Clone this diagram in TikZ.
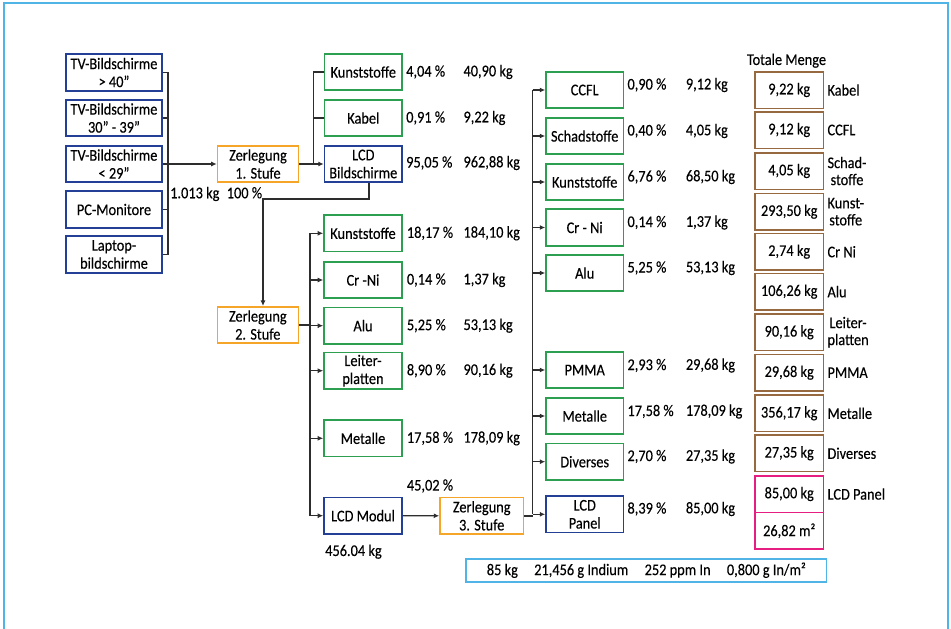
\documentclass[tikz,border=0pt]{standalone}
\usepackage{fontspec}
\setmainfont{Carlito}[FakeStretch=0.88,FakeBold=0.25]
\usetikzlibrary{arrows.meta}
\definecolor{navybx}{RGB}{36,64,150}
\definecolor{greenbx}{RGB}{44,160,80}
\definecolor{orangebx}{RGB}{245,166,40}
\definecolor{brownbx}{RGB}{150,105,65}
\definecolor{magbx}{RGB}{230,30,130}
\definecolor{lblue}{RGB}{80,180,230}
\definecolor{linec}{RGB}{45,45,45}
\begin{document}
\begin{tikzpicture}[x=1pt,y=-1pt,font=\fontsize{16.3}{18}\selectfont,
  bx/.style={draw,line width=1.6pt,inner sep=0pt,align=center,minimum height=36.5pt},
  nb/.style={bx,draw=navybx},
  gb/.style={bx,draw=greenbx},
  ob/.style={bx,draw=orangebx},
  tb/.style={bx,draw=brownbx,minimum width=68.3pt,minimum height=36.6pt},
  mb/.style={bx,draw=magbx,minimum width=68.3pt,minimum height=36.6pt},
  lbl/.style={anchor=west,inner sep=0pt},
  tlbl/.style={anchor=west,inner sep=0pt,align=center,font=\fontsize{16.3}{17}\selectfont},
  conn/.style={draw=linec,line width=1.4pt},
  arr/.style={conn,-{Latex[length=5.5pt,width=5pt]}}]
\useasboundingbox (0,0) rectangle (951,629);
% frame
\draw[lblue,line width=1.6pt] (4,640) -- (4,3) -- (948,3) -- (948,640);

% left column
\node[nb,minimum width=96pt] (b1) at (114,72.5) {TV-Bildschirme\\> 40”};
\node[nb,minimum width=96pt] (b2) at (114,118) {TV-Bildschirme\\30” - 39”};
\node[nb,minimum width=96pt] (b3) at (114,164) {TV-Bildschirme\\< 29”};
\node[nb,minimum width=96pt] (b4) at (114,209.5) {PC-Monitore};
\node[nb,minimum width=96pt] (b5) at (114,254.5) {Laptop-\\bildschirme};

\node[ob,minimum width=81pt] (z1) at (258,164) {Zerlegung\\1. Stufe};
\node[lbl] (tot1) at (170,194) {1.013 kg\hspace{0.45em}100 \%};

% stage 1 outputs
\node[gb,minimum width=77.5pt] (s1a) at (363.3,72) {Kunststoffe};
\node[gb,minimum width=77.5pt] (s1b) at (363.3,118) {Kabel};
\node[nb,minimum width=77.5pt] (s1c) at (363.3,164) {LCD\\Bildschirme};
\node[lbl] (p1a) at (406,72) {4,04 \%};
\node[lbl] (k1a) at (463.3,72) {40,90 kg};
\node[lbl] (p1b) at (406,118) {0,91 \%};
\node[lbl] (k1b) at (463.3,118) {9,22 kg};
\node[lbl] (p1c) at (406,163) {95,05 \%};
\node[lbl] (k1c) at (463.3,163) {962,88 kg};

% stage 2
\node[ob,minimum width=81pt] (z2) at (257.8,325) {Zerlegung\\2. Stufe};
\node[gb,minimum width=78pt] (s2a) at (363,233.3) {Kunststoffe};
\node[gb,minimum width=78pt] (s2b) at (363,280) {Cr -Ni};
\node[gb,minimum width=78pt] (s2c) at (363,325.7) {Alu};
\node[gb,minimum width=78pt] (s2d) at (363,370.7) {Leiter-\\platten};
\node[gb,minimum width=78pt] (s2e) at (363,438.3) {Metalle};
\node[nb,minimum width=78pt] (s2f) at (363,515.7) {LCD Modul};
\node[lbl] (p2a) at (406.7,233.3) {18,17 \%};
\node[lbl] (k2a) at (463.3,233.3) {184,10 kg};
\node[lbl] (p2b) at (406.7,280) {0,14 \%};
\node[lbl] (k2b) at (463.3,280) {1,37 kg};
\node[lbl] (p2c) at (406.7,325.7) {5,25 \%};
\node[lbl] (k2c) at (463.3,325.7) {53,13 kg};
\node[lbl] (p2d) at (406.7,370.7) {8,90 \%};
\node[lbl] (k2d) at (463.3,370.7) {90,16 kg};
\node[lbl] (p2e) at (406.7,438.3) {17,58 \%};
\node[lbl] (k2e) at (463.3,438.3) {178,09 kg};
\node[lbl] (p2f) at (406.7,486) {45,02 \%};
\node[lbl] (k2f) at (325,551.7) {456.04 kg};

% stage 3
\node[ob,minimum width=83.3pt] (z3) at (481.7,515.8) {Zerlegung\\3. Stufe};
\node[gb,minimum width=77.3pt] (s3a) at (584.7,90) {CCFL};
\node[gb,minimum width=77.3pt] (s3b) at (584.7,136) {Schadstoffe};
\node[gb,minimum width=77.3pt] (s3c) at (584.7,182) {Kunststoffe};
\node[gb,minimum width=77.3pt] (s3d) at (584.7,227.5) {Cr - Ni};
\node[gb,minimum width=77.3pt] (s3e) at (584.7,273) {Alu};
\node[gb,minimum width=77.3pt] (s3f) at (584.7,370) {PMMA};
\node[gb,minimum width=77.3pt] (s3g) at (584.7,416) {Metalle};
\node[gb,minimum width=77.3pt] (s3h) at (584.7,461.7) {Diverses};
\node[nb,minimum width=77.3pt] (s3i) at (584.7,514.3) {LCD\\Panel};
\node[lbl] (p3a) at (627.3,85) {0,90 \%};
\node[lbl] (k3a) at (685.7,85) {9,12 kg};
\node[lbl] (p3b) at (627.3,131) {0,40 \%};
\node[lbl] (k3b) at (685.7,131) {4,05 kg};
\node[lbl] (p3c) at (627.3,177) {6,76 \%};
\node[lbl] (k3c) at (685.7,177) {68,50 kg};
\node[lbl] (p3d) at (627.3,222.5) {0,14 \%};
\node[lbl] (k3d) at (685.7,222.5) {1,37 kg};
\node[lbl] (p3e) at (627.3,268) {5,25 \%};
\node[lbl] (k3e) at (685.7,268) {53,13 kg};
\node[lbl] (p3f) at (627.3,365.5) {2,93 \%};
\node[lbl] (k3f) at (685.7,365.5) {29,68 kg};
\node[lbl] (p3g) at (627.3,411.5) {17,58 \%};
\node[lbl] (k3g) at (685.7,411.5) {178,09 kg};
\node[lbl] (p3h) at (627.3,456.5) {2,70 \%};
\node[lbl] (k3h) at (685.7,456.5) {27,35 kg};
\node[lbl] (p3i) at (627.3,509) {8,39 \%};
\node[lbl] (k3i) at (685.7,509) {85,00 kg};

% totals
\node[lbl] (tm) at (746.7,60.7) {Totale Menge};
\node[tb] (t1) at (789.2,90) {9,22 kg};
\node[tb] (t2) at (789.2,130) {9,12 kg};
\node[tb] (t3) at (789.2,171) {4,05 kg};
\node[tb] (t4) at (789.2,211.7) {293,50 kg};
\node[tb] (t5) at (789.2,251.7) {2,74 kg};
\node[tb] (t6) at (789.2,291.7) {106,26 kg};
\node[tb] (t7) at (789.2,332.3) {90,16 kg};
\node[tb] (t8) at (789.2,372.7) {29,68 kg};
\node[tb] (t9) at (789.2,413.3) {356,17 kg};
\node[tb] (t10) at (789.2,453.3) {27,35 kg};
\node[mb] (t11) at (789.2,494) {85,00 kg};
\node[mb] (t12) at (789.2,530.8) {26,82 m²};
\node[tlbl] (l1) at (827.3,90) {Kabel};
\node[tlbl] (l2) at (827.3,130) {CCFL};
\node[tlbl] (l3) at (827.3,171) {Schad-\\stoffe};
\node[tlbl] (l4) at (827.3,211.7) {Kunst-\\stoffe};
\node[tlbl] (l5) at (827.3,251.7) {Cr Ni};
\node[tlbl] (l6) at (827.3,291.7) {Alu};
\node[tlbl] (l7) at (827.3,332.3) {Leiter-\\platten};
\node[tlbl] (l8) at (827.3,372.7) {PMMA};
\node[tlbl] (l9) at (827.3,413.3) {Metalle};
\node[tlbl] (l10) at (827.3,453.3) {Diverses};
\node[tlbl] (l11) at (827.3,494) {LCD Panel};

% indium box
\node[draw=lblue,line width=1.6pt,minimum width=360.7pt,minimum height=23pt,inner sep=0pt] (ind) at (646.3,570.2)
  {85 kg\hspace{1em}21,456 g Indium\hspace{1em}252 ppm In\hspace{1em}0,800 g In/m²};

% connectors: left bracket
\coordinate (j1) at (168,164);
\draw[conn] (b1.east) -| (j1);
\draw[conn] (b5.east) -| (j1);
\draw[conn] (b2.east) -- (b2.east -| j1);
\draw[conn] (b4.east) -- (b4.east -| j1);
\draw[arr] (b3.east) -- (z1.west);

% stage 1 bracket
\coordinate (j2) at (313.5,164);
\draw[conn] (s1a.west) -| (j2);
\draw[conn] (s1b.west) -- (s1b.west -| j2);
\draw[arr] (z1.east) -- (s1c.west);

% LCD Bildschirme to Zerlegung 2
\coordinate (k1) at (263,199);
\draw[arr] ([xshift=5.5pt]s1c.south) |- (k1) -- (k1 |- z2.north);

% stage 2 bracket
\coordinate (j3) at (310,325.7);
\draw[conn] (z2.east) -- (z2.east -| j3);
\draw[conn] (j3 |- s2a.west) -- (j3 |- s2f.west);
\foreach \n in {s2a,s2b,s2c,s2d,s2e,s2f}{\draw[arr] (j3 |- \n.west) -- (\n.west);}
\draw[arr] (s2f.east) -- (z3.west);

% stage 3 bracket
\coordinate (j4) at (532.5,300);
\draw[conn] (j4 |- s3a.west) -- (j4 |- s3i.west);
\draw[conn] (z3.east) -- (z3.east -| j4);
\foreach \n in {s3a,s3b,s3c,s3d,s3e,s3f,s3g,s3h,s3i}{\draw[arr] (j4 |- \n.west) -- (\n.west);}
\end{tikzpicture}
\end{document}
